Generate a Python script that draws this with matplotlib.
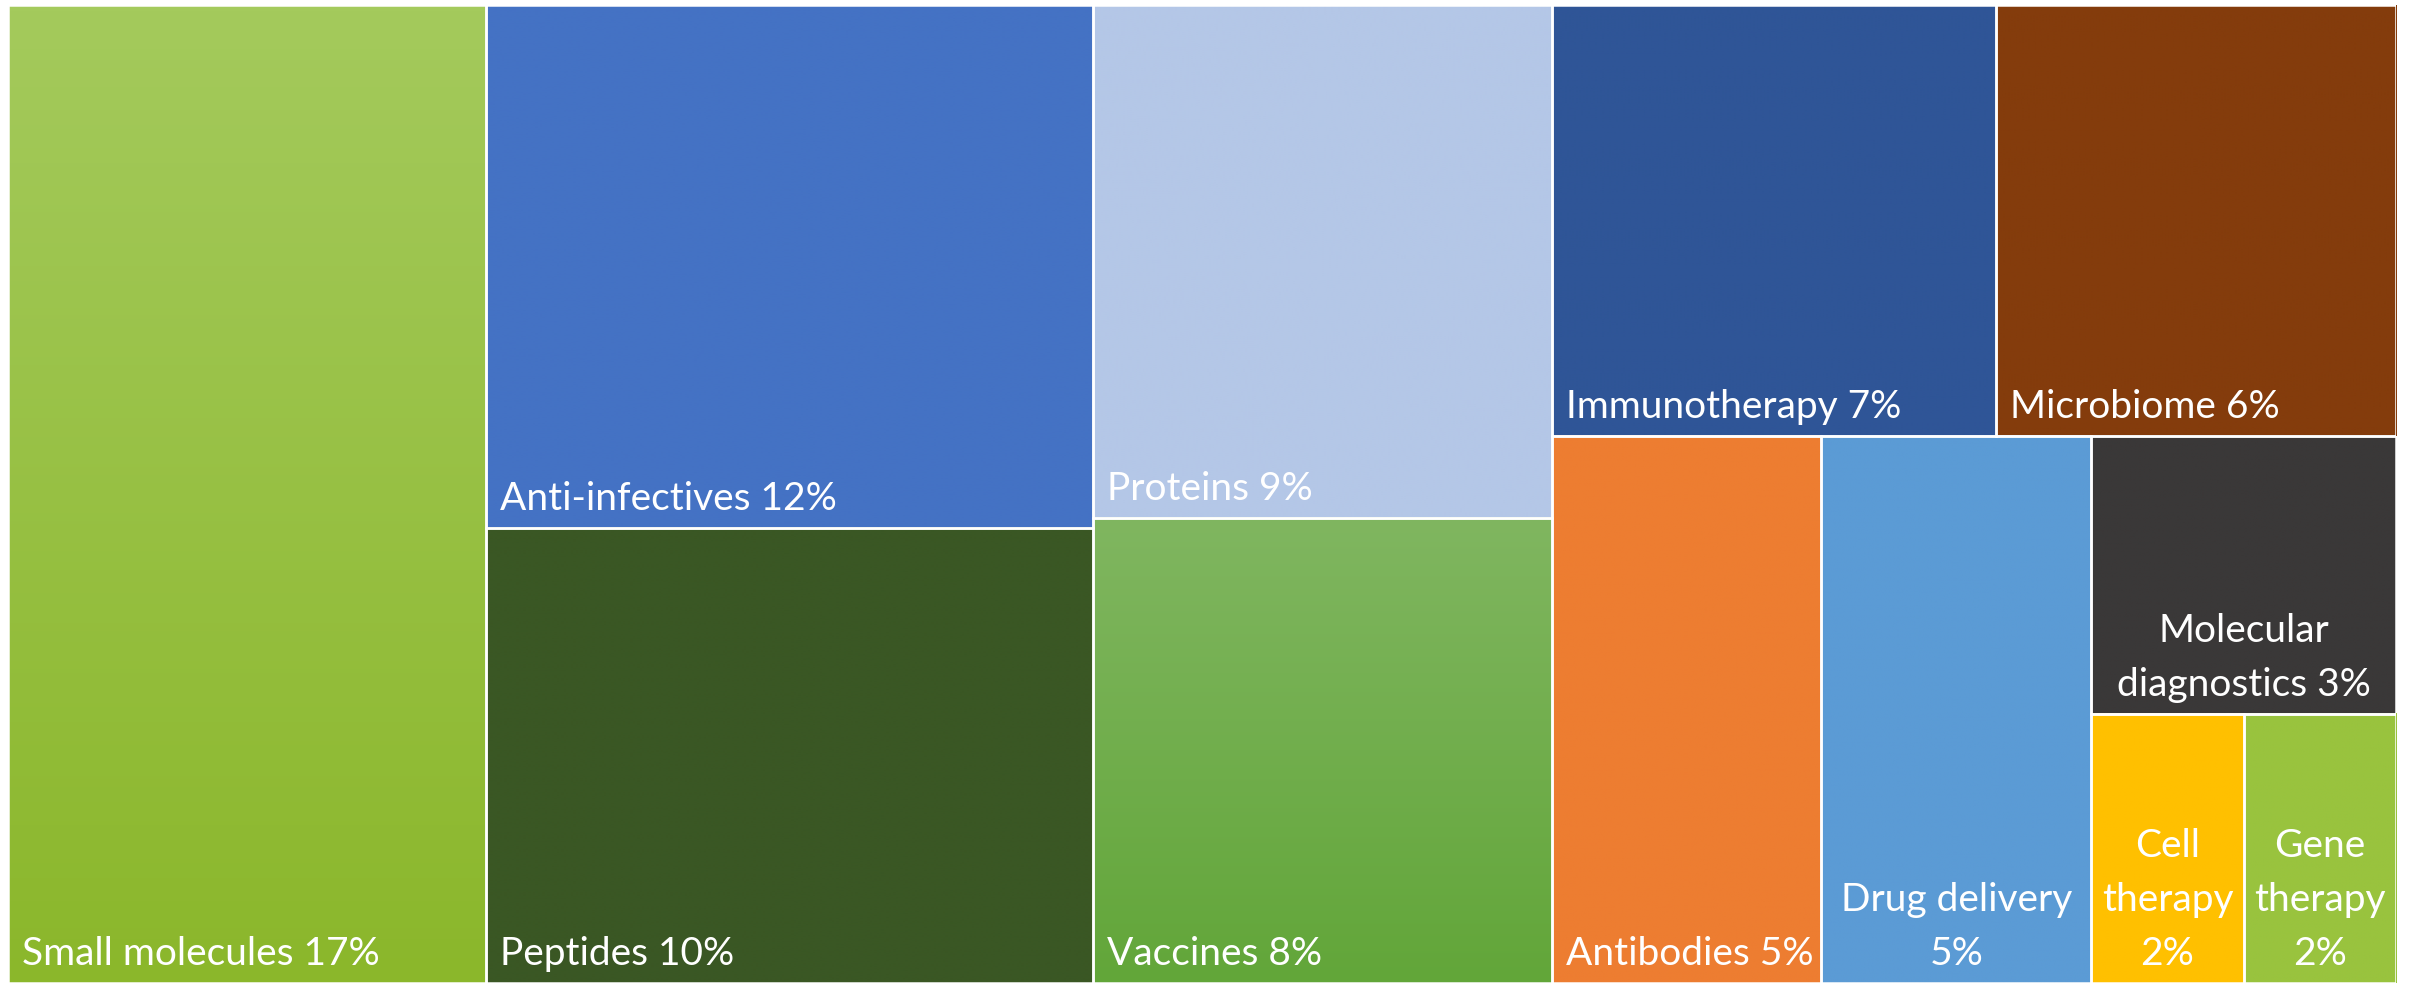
import matplotlib.pyplot as plt
import numpy as np
from matplotlib.colors import LinearSegmentedColormap
from matplotlib.patches import Rectangle

plt.rcParams['font.family'] = ['Lato', 'DejaVu Sans']

# market share by segment (area of each tile)
categories = ['Small molecules', 'Anti-infectives', 'Peptides', 'Proteins', 'Vaccines',
              'Immunotherapy', 'Microbiome', 'Antibodies', 'Drug delivery',
              'Molecular diagnostics', 'Cell therapy', 'Gene therapy']
shares = [17.1, 11.6, 10.1, 8.6, 7.8, 7.0, 6.3, 5.4, 5.4, 3.1, 1.5, 1.5]
pct_labels = ['17%', '12%', '10%', '9%', '8%', '7%', '6%', '5%', '5%', '3%', '2%', '2%']
# how the label text wraps inside the small tiles
label_text = ['Small molecules 17%', 'Anti-infectives 12%', 'Peptides 10%', 'Proteins 9%',
              'Vaccines 8%', 'Immunotherapy 7%', 'Microbiome 6%', 'Antibodies 5%',
              'Drug delivery\n5%', 'Molecular\ndiagnostics 3%', 'Cell\ntherapy\n2%',
              'Gene\ntherapy\n2%']

# colours (top, bottom) -> gradient for a couple of tiles
colors = [('#A4CA5C', '#8BB72B'), ('#4472C4', '#4472C4'), ('#3A5724', '#3A5724'),
          ('#B4C7E7', '#B4C7E7'), ('#80B660', '#62A639'), ('#2F5597', '#2F5597'),
          ('#843C0C', '#843C0C'), ('#ED7D31', '#ED7D31'), ('#5B9BD5', '#5B9BD5'),
          ('#3A3838', '#3A3838'), ('#FFC000', '#FFC000'), ('#99C33E', '#99C33E')]

# slice-and-dice structure of the tiles (h = side by side, v = stacked)
tree = ('h', [0, ('v', [1, 2]), ('v', [3, 4]),
              ('v', [('h', [5, 6]), ('h', [7, 8, ('v', [9, ('h', [10, 11])])])])])


def total(node):
    if isinstance(node, int):
        return shares[node]
    return sum(total(c) for c in node[1])


def layout(node, x, y, w, h, out):
    if isinstance(node, int):
        out[node] = (x, y, w, h)
        return
    direction, children = node
    s = total(node)
    for c in children:
        f = total(c) / s
        if direction == 'h':
            layout(c, x, y, w * f, h, out)
            x += w * f
        else:
            layout(c, x, y, w, h * f, out)
            y += h * f


W, H = 2388, 978
fig = plt.figure(figsize=(24.12, 9.83), dpi=100)
ax = fig.add_axes([8 / 2412, 0, W / 2412, H / 983])

rects = {}
layout(tree, 0, 0, W, H, rects)

grad = np.linspace(0, 1, 256).reshape(-1, 1)
for i, cat in enumerate(categories):
    x, y, w, h = rects[i]
    top, bot = colors[i]
    cmap = LinearSegmentedColormap.from_list(cat, [top, bot])
    ax.imshow(grad, cmap=cmap, extent=(x, x + w, y, y + h), origin='lower',
              aspect='auto', interpolation='bilinear', zorder=1)
    ax.add_patch(Rectangle((x, y), w, h, facecolor='none', edgecolor='white',
                           linewidth=1.8, zorder=2))
    txt = label_text[i]
    if '\n' in txt:
        ax.text(x + w / 2, y + h - 11, txt, ha='center', va='bottom',
                multialignment='center', color='white', fontsize=28,
                linespacing=1.62, zorder=3)
    else:
        ax.text(x + 14, y + h - 11, txt, ha='left', va='bottom',
                color='white', fontsize=28, zorder=3)

ax.set_xlim(0, W)
ax.set_ylim(H, 0)
ax.axis('off')

fig.savefig('out.png', dpi=100, facecolor='white')
